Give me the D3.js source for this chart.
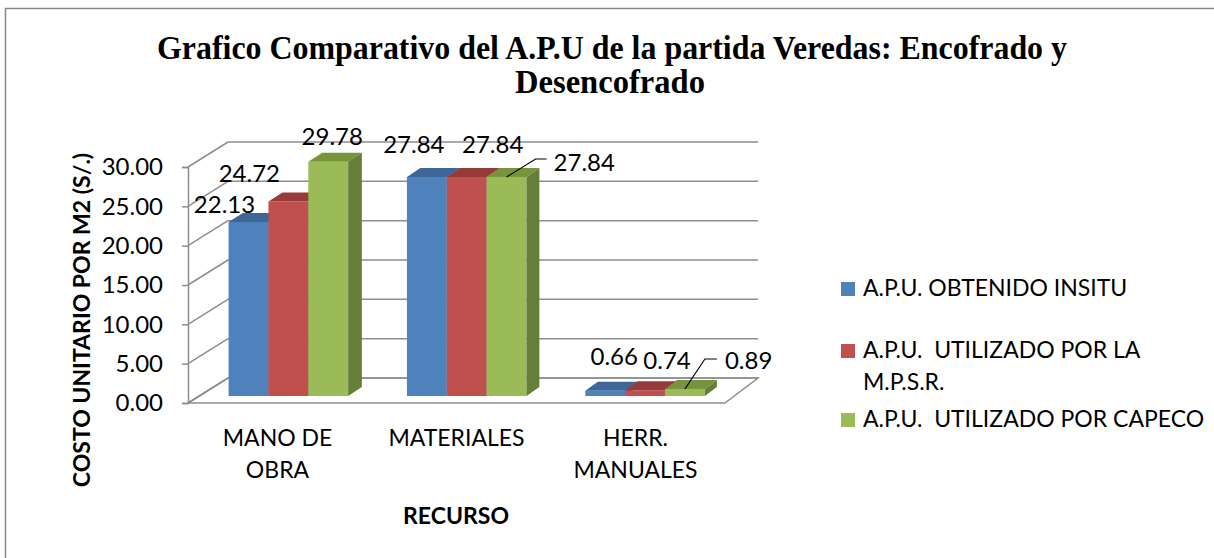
<!DOCTYPE html>
<html>
<head>
<meta charset="utf-8">
<script src="https://cdn.jsdelivr.net/npm/d3@7"></script>
<style>
  html, body { margin: 0; padding: 0; background: #ffffff; }
  svg { display: block; }
  text { font-family: Lato, "Open Sans", sans-serif; fill: #000; }
</style>
</head>
<body>
<svg id="chart" width="1214" height="558"></svg>
<script>
// ---------- DATA ----------
const titleLines = ["Grafico Comparativo del A.P.U de la partida Veredas: Encofrado y", "Desencofrado"];
const categories = ["MANO DE OBRA", "MATERIALES", "HERR. MANUALES"];
const categoryLines = [["MANO DE", "OBRA"], ["MATERIALES"], ["HERR.", "MANUALES"]];
const seriesNames = ["A.P.U. OBTENIDO INSITU", "A.P.U.  UTILIZADO POR LA M.P.S.R.", "A.P.U.  UTILIZADO POR CAPECO"];
const legendLines = [["A.P.U. OBTENIDO INSITU"], ["A.P.U.  UTILIZADO POR LA", "M.P.S.R."], ["A.P.U.  UTILIZADO POR CAPECO"]];
const insitu = [22.13, 27.84, 0.66];
const mpsr   = [24.72, 27.84, 0.74];
const capeco = [29.78, 27.84, 0.89];
const yTicks = [0, 5, 10, 15, 20, 25, 30];
const yTitle = "COSTO UNITARIO POR M2 (S/.)";
const xTitle = "RECURSO";

// ---------- STYLE / LAYOUT ----------
const seriesValues = [insitu, mpsr, capeco];
const frontCol = ["#4f81bd", "#c0504d", "#9bbb59"];
const topCol   = ["#3e6698", "#953b39", "#77933c"];
const sideCol  = ["#3a5f8c", "#8a3735", "#677d3a"];
const gridCol = "#8e8e8e";
const numFont = "24px";

const svg = d3.select("#chart");

// frame
svg.append("rect").attr("x", 5.5).attr("y", 8.5).attr("width", 1230).attr("height", 570)
  .attr("fill", "none").attr("stroke", "#868686").attr("stroke-width", 1.5);

// title
svg.selectAll("text.title").data(titleLines).join("text")
  .attr("class", "title")
  .attr("x", (d, i) => i === 0 ? 612 : 610)
  .attr("y", (d, i) => 59 + i * 34)
  .attr("text-anchor", "middle")
  .attr("textLength", (d, i) => i === 0 ? 910 : 190)
  .attr("lengthAdjust", "spacingAndGlyphs")
  .style("font-family", "'Liberation Serif', 'Times New Roman', serif")
  .style("font-weight", "bold")
  .style("font-size", "34px")
  .text(d => d);

// scales
const xFront = [188, 725];
const y = d3.scaleLinear().domain([0, 30]).range([403, 167]);
const x0 = d3.scaleBand().domain(categories).range(xFront).padding(0);
const x1 = d3.scaleBand().domain(seriesNames).range([0, x0.bandwidth()]).paddingInner(0).paddingOuter(0.7375);

// depth projection (slight perspective: depth offset shrinks to the right)
const DY = 25;
const DX = xf => 40 - 7 * (xf - xFront[0]) / (xFront[1] - xFront[0]);
const P = (xf, v, t) => [xf + t * DX(xf), y(v) - t * DY];
const T0 = 0.28, T1 = 0.64;

const g = svg.append("g");

// floor
const floorPts = [P(xFront[0], 0, 0), P(xFront[1], 0, 0), P(xFront[1], 0, 1), P(xFront[0], 0, 1)];
g.append("polygon").attr("points", floorPts.map(p => p.join(",")).join(" "))
  .attr("fill", "#fff").attr("stroke", gridCol).attr("stroke-width", 1.5);

// back wall gridlines + side wall diagonals
yTicks.forEach(v => {
  const a = P(xFront[0], v, 1), b = P(xFront[1], v, 1), f = P(xFront[0], v, 0);
  g.append("line").attr("x1", a[0]).attr("y1", a[1]).attr("x2", b[0]).attr("y2", b[1])
    .attr("stroke", gridCol).attr("stroke-width", 1.5);
  g.append("line").attr("x1", f[0]).attr("y1", f[1]).attr("x2", a[0]).attr("y2", a[1])
    .attr("stroke", gridCol).attr("stroke-width", 1.5);
});

// y axis
const yAxis = d3.axisLeft(y).tickValues(yTicks).tickFormat(d3.format(".2f")).tickSize(6).tickPadding(19);
const ya = svg.append("g").attr("transform", `translate(${xFront[0]},0)`).call(yAxis);
ya.select(".domain").attr("stroke", gridCol).attr("stroke-width", 1.5);
ya.selectAll(".tick line").attr("stroke", gridCol).attr("stroke-width", 1.5);
ya.selectAll(".tick text").style("font-family", "Lato, sans-serif").style("font-size", numFont).attr("fill", "#000");

// bars
const bars = [];
categories.forEach((c, ci) => {
  seriesNames.forEach((s, si) => {
    bars.push({ c, ci, s, si, v: seriesValues[si][ci] });
  });
});
const bg = svg.append("g");
bars.forEach(d => {
  const xl = x0(d.c) + x1(d.s), xr = xl + x1.bandwidth();
  const fl0 = P(xl, 0, T0), fr0 = P(xr, 0, T0), flv = P(xl, d.v, T0), frv = P(xr, d.v, T0);
  const blv = P(xl, d.v, T1), brv = P(xr, d.v, T1), br0 = P(xr, 0, T1);
  const poly = pts => pts.map(p => p.join(",")).join(" ");
  bg.append("polygon").attr("points", poly([fl0, fr0, frv, flv])).attr("fill", frontCol[d.si]);
  bg.append("polygon").attr("points", poly([flv, frv, brv, blv])).attr("fill", topCol[d.si]);
  bg.append("polygon").attr("points", poly([fr0, br0, brv, frv])).attr("fill", sideCol[d.si]);
  d.cx = (flv[0] + frv[0]) / 2;
  d.top = flv[1];
});

// data labels: placement nudges relative to bar front-top centre
const labelNudge = {
  "0|0": [-24, -9], "0|1": [-39, -20], "0|2": [4, -17],
  "1|0": [-13, -24], "1|1": [26, -24],
  "2|0": [9, -26], "2|1": [22, -21]
};
const leaderNudge = { "1|2": { bend: [29, -18], end: [40, -18], text: [47, -6] },
                      "2|2": { bend: [20, -30], end: [32, -30], text: [40, -20] } };
const lg = svg.append("g");
bars.forEach(d => {
  const key = d.ci + "|" + d.si;
  const label = d3.format(".2f")(d.v);
  if (leaderNudge[key]) {
    const L = leaderNudge[key];
    lg.append("polyline")
      .attr("points", [[d.cx, d.top], [d.cx + L.bend[0], d.top + L.bend[1]], [d.cx + L.end[0], d.top + L.end[1]]].map(p => p.join(",")).join(" "))
      .attr("fill", "none").attr("stroke", "#000").attr("stroke-width", 1.2);
    lg.append("text").attr("x", d.cx + L.text[0]).attr("y", d.top + L.text[1])
      .style("font-size", numFont).text(label);
  } else {
    const n = labelNudge[key];
    lg.append("text").attr("x", d.cx + n[0]).attr("y", d.top + n[1])
      .attr("text-anchor", "middle").style("font-size", numFont).text(label);
  }
});

// category labels
categories.forEach((c, ci) => {
  const cx = x0(c) + x0.bandwidth() / 2;
  const t = svg.append("text").attr("text-anchor", "middle").style("font-size", "23px");
  categoryLines[ci].forEach((ln, li) => {
    t.append("tspan").attr("x", cx).attr("y", 446 + li * 32).text(ln);
  });
});

// axis titles
svg.append("text").attr("x", 456).attr("y", 524).attr("text-anchor", "middle")
  .style("font-size", "23px").style("font-weight", "bold").text(xTitle);
svg.append("text").attr("transform", "translate(90,320) rotate(-90)").attr("text-anchor", "middle")
  .style("font-size", "23px").style("font-weight", "bold").text(yTitle);

// legend
const legendRowY = [296, 358, 427];
seriesNames.forEach((s, si) => {
  const yb = legendRowY[si];
  svg.append("rect").attr("x", 841).attr("y", yb - 14).attr("width", 14).attr("height", 14).attr("fill", frontCol[si]);
  const t = svg.append("text").style("font-size", "23px").style("white-space", "pre");
  legendLines[si].forEach((ln, li) => {
    t.append("tspan").attr("x", 863).attr("y", yb + li * 32).text(ln);
  });
});
</script>
</body>
</html>
